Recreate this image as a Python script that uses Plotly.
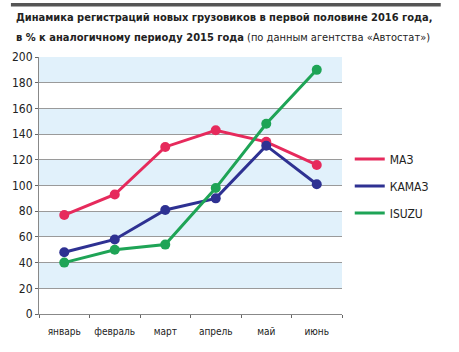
import plotly.graph_objects as go

months = ["январь", "февраль", "март", "апрель", "май", "июнь"]
maz = [77, 93, 130, 143, 134, 116]
kamaz = [48, 58, 81, 90, 131, 101]
isuzu = [40, 50, 54, 98, 148, 190]
series_names = ["МАЗ", "КАМАЗ", "ISUZU"]
y_ticks = [0, 20, 40, 60, 80, 100, 120, 140, 160, 180, 200]
title_line1 = "<b>Динамика регистраций новых грузовиков в первой половине 2016 года,</b>"
title_line2 = "<b>в % к аналогичному периоду 2015 года</b> (по данным агентства «Автостат»)"

colors = ["#e62a5c", "#2e3192", "#1ea456"]
FONT = "DejaVu Sans Condensed, Roboto, sans-serif"

fig = go.Figure()
for name, vals, col in zip(series_names, [maz, kamaz, isuzu], colors):
    fig.add_trace(go.Scatter(x=months, y=vals, mode="lines+markers", showlegend=False,
                             line=dict(color=col, width=3),
                             marker=dict(color=col, size=10)))
for i, (name, col) in enumerate(zip(series_names, colors)):
    fig.add_trace(go.Scatter(x=[None], y=[None], mode="lines", name=name,
                             legendgroup=f"g{i}",
                             line=dict(color=col, width=3)))

shapes = []
for i in range(len(y_ticks) - 1):
    if i % 2 == 1:
        shapes.append(dict(type="rect", xref="paper", yref="y", x0=0, x1=1,
                           y0=y_ticks[i], y1=y_ticks[i + 1],
                           fillcolor="#e1f1fb", line=dict(width=0), layer="below"))
shapes.append(dict(type="rect", xref="paper", yref="paper",
                   x0=-29/313, x1=(444-29)/313, y0=(314-3)/257, y1=(314-6.5)/257,
                   fillcolor="#555555", line=dict(width=0)))

def yp(px):
    return (314 - px) / 257

fig.update_layout(
    width=459, height=352,
    margin=dict(l=29, r=117, t=57, b=38),
    paper_bgcolor="white", plot_bgcolor="white",
    shapes=shapes,
    font=dict(family=FONT, color="#222222"),
    xaxis=dict(showgrid=False, showline=True, linecolor="#888888", linewidth=1,
               ticks="outside", ticklen=3, tickcolor="#666666", tickangle=0,
               tickson="boundaries", tickfont=dict(size=10, color="#222222"),
               ticklabelstandoff=8,
               range=[-0.5, 5.5], fixedrange=True),
    yaxis=dict(range=[0, 200], tickvals=y_ticks, showgrid=True, gridcolor="#9a9a9a",
               gridwidth=1, showline=True, linecolor="#888888", linewidth=1,
               ticks="outside", ticklen=3, tickcolor="#666666",
               tickfont=dict(size=12, color="#222222"), zeroline=False),
    legend=dict(x=(350-29)/313, y=0.66, xanchor="left", yanchor="top",
                bgcolor="rgba(0,0,0,0)", font=dict(size=12, color="#222222"),
                tracegroupgap=8),
    annotations=[
        dict(xref="paper", yref="paper", x=-26/313, y=yp(17),
             xanchor="left", yanchor="middle", align="left", showarrow=False,
             text=title_line1, font=dict(size=11, color="#222222")),
        dict(xref="paper", yref="paper", x=-26/313, y=yp(37),
             xanchor="left", yanchor="middle", align="left", showarrow=False,
             text=title_line2, font=dict(size=11, color="#222222")),
    ],
)

fig.write_html("out.html")
